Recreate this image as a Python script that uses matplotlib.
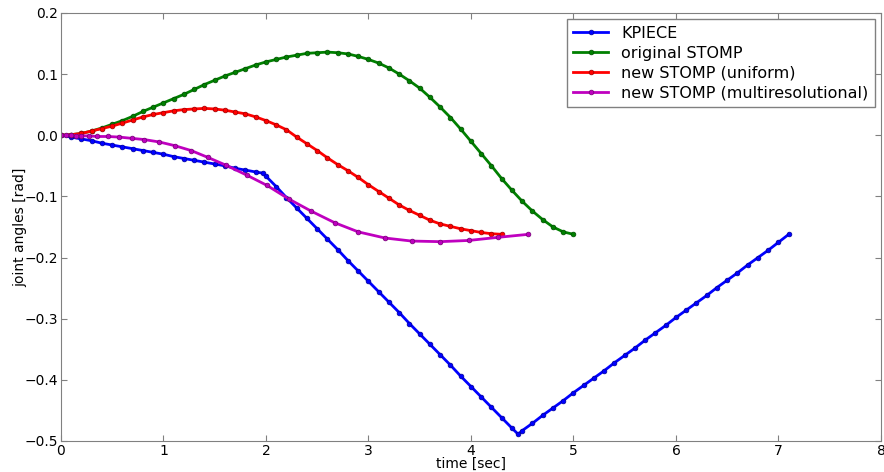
import matplotlib.pyplot as plt

# KPIECE, read every 0.1 s plus the two corners
kp_t = [0.0, 0.1, 0.2, 0.3, 0.4, 0.5, 0.6, 0.7, 0.8, 0.9, 1.0, 1.1, 1.2, 1.3,
        1.4, 1.5, 1.6, 1.7, 1.8, 1.9, 1.97, 2.0, 2.1, 2.2, 2.3, 2.4, 2.5, 2.6,
        2.7, 2.8, 2.9, 3.0, 3.1, 3.2, 3.3, 3.4, 3.5, 3.6, 3.7, 3.8, 3.9, 4.0,
        4.1, 4.2, 4.3, 4.4, 4.46, 4.5, 4.6, 4.7, 4.8, 4.9, 5.0, 5.1, 5.2, 5.3,
        5.4, 5.5, 5.6, 5.7, 5.8, 5.9, 6.0, 6.1, 6.2, 6.3, 6.4, 6.5, 6.6, 6.7,
        6.8, 6.9, 7.0, 7.1]
kp_y = [0.000, -0.003, -0.006, -0.009, -0.013, -0.016, -0.019, -0.022, -0.025,
        -0.028, -0.031, -0.035, -0.038, -0.041, -0.044, -0.047, -0.050, -0.054,
        -0.057, -0.060, -0.062, -0.067, -0.084, -0.102, -0.119, -0.136, -0.153,
        -0.170, -0.187, -0.205, -0.222, -0.239, -0.256, -0.273, -0.290, -0.308,
        -0.325, -0.342, -0.359, -0.376, -0.394, -0.411, -0.428, -0.445, -0.462,
        -0.479, -0.489, -0.483, -0.471, -0.458, -0.446, -0.434, -0.421, -0.409,
        -0.397, -0.385, -0.372, -0.360, -0.348, -0.335, -0.323, -0.311, -0.298,
        -0.286, -0.274, -0.262, -0.249, -0.237, -0.225, -0.212, -0.200, -0.188,
        -0.175, -0.162]

# original STOMP
gs_t = [0.0, 0.1, 0.2, 0.3, 0.4, 0.5, 0.6, 0.7, 0.8, 0.9, 1.0, 1.1, 1.2, 1.3,
        1.4, 1.5, 1.6, 1.7, 1.8, 1.9, 2.0, 2.1, 2.2, 2.3, 2.4, 2.5, 2.6, 2.7,
        2.8, 2.9, 3.0, 3.1, 3.2, 3.3, 3.4, 3.5, 3.6, 3.7, 3.8, 3.9, 4.0, 4.1,
        4.2, 4.3, 4.4, 4.5, 4.6, 4.7, 4.8, 4.9, 5.0]
gs_y = [0.000, 0.001, 0.003, 0.007, 0.012, 0.018, 0.024, 0.031, 0.039, 0.046,
        0.053, 0.060, 0.067, 0.075, 0.083, 0.090, 0.097, 0.103, 0.109, 0.115,
        0.120, 0.124, 0.128, 0.131, 0.134, 0.135, 0.136, 0.135, 0.133, 0.129,
        0.124, 0.118, 0.110, 0.100, 0.089, 0.077, 0.062, 0.046, 0.029, 0.010,
        -0.010, -0.030, -0.050, -0.071, -0.090, -0.108, -0.124, -0.138, -0.150,
        -0.158, -0.162]

# new STOMP (uniform)
ru_t = [0.0, 0.1, 0.2, 0.3, 0.4, 0.5, 0.6, 0.7, 0.8, 0.9, 1.0, 1.1, 1.2, 1.3,
        1.4, 1.5, 1.6, 1.7, 1.8, 1.9, 2.0, 2.1, 2.2, 2.3, 2.4, 2.5, 2.6, 2.7,
        2.8, 2.9, 3.0, 3.1, 3.2, 3.3, 3.4, 3.5, 3.6, 3.7, 3.8, 3.9, 4.0, 4.1,
        4.2, 4.3]
ru_y = [0.000, 0.001, 0.003, 0.007, 0.011, 0.015, 0.020, 0.025, 0.030, 0.034,
        0.037, 0.040, 0.042, 0.043, 0.044, 0.043, 0.041, 0.038, 0.035, 0.030,
        0.024, 0.017, 0.009, -0.003, -0.014, -0.025, -0.037, -0.048, -0.058,
        -0.069, -0.081, -0.092, -0.103, -0.114, -0.123, -0.131, -0.139, -0.145,
        -0.149, -0.153, -0.156, -0.159, -0.161, -0.162]

# new STOMP (multiresolutional)
mr_t = [0.0, 0.05, 0.10, 0.15, 0.20, 0.27, 0.35, 0.46, 0.57, 0.69, 0.81, 0.96,
        1.11, 1.27, 1.43, 1.61, 1.81, 2.01, 2.22, 2.44, 2.67, 2.90, 3.16, 3.42,
        3.70, 3.98, 4.26, 4.56]
mr_y = [0.000, 0.000, 0.000, -0.001, -0.001, -0.001, -0.002, -0.002, -0.003,
        -0.005, -0.007, -0.011, -0.017, -0.025, -0.036, -0.049, -0.065, -0.082,
        -0.104, -0.124, -0.143, -0.158, -0.168, -0.173, -0.174, -0.172, -0.167,
        -0.162]

series = [
    ("KPIECE", kp_t, kp_y, (0, 0, 1), (0, 0, 0.6)),
    ("original STOMP", gs_t, gs_y, (0, 0.5, 0), (0, 0.3, 0)),
    ("new STOMP (uniform)", ru_t, ru_y, (1, 0, 0), (0.6, 0, 0)),
    ("new STOMP (multiresolutional)", mr_t, mr_y, (0.75, 0, 0.75), (0.45, 0, 0.45)),
]

fig = plt.figure(figsize=(8.84, 4.72), dpi=100)
ax = fig.add_axes([0.069, 0.0657, 0.9276, 0.9068])

for label, t, y, col, edge in series:
    ax.plot(t, y, color=col, lw=2, marker="o", ms=3.4, mfc=col, mec=edge,
            mew=0.5, label=label)

ax.set_xlim(0, 8)
ax.set_ylim(-0.5, 0.2)
ax.set_xticks(range(9))
ax.set_yticks([-0.5, -0.4, -0.3, -0.2, -0.1, 0.0, 0.1, 0.2])

for sp in ax.spines.values():
    sp.set_color("#808080")
ax.tick_params(direction="in", top=True, right=True, length=4,
               color="#808080", labelsize=10, pad=2)

ax.set_xlabel("time [sec]", fontsize=10, labelpad=-1)
ax.set_ylabel("joint angles [rad]", fontsize=10, labelpad=-2)

leg = ax.legend(loc="upper right", fontsize=11.5, fancybox=False,
                framealpha=1, labelspacing=0.3, handlelength=2.2,
                borderaxespad=0.4, borderpad=0.4)
leg.get_frame().set_edgecolor("#808080")

plt.savefig("out.png")
